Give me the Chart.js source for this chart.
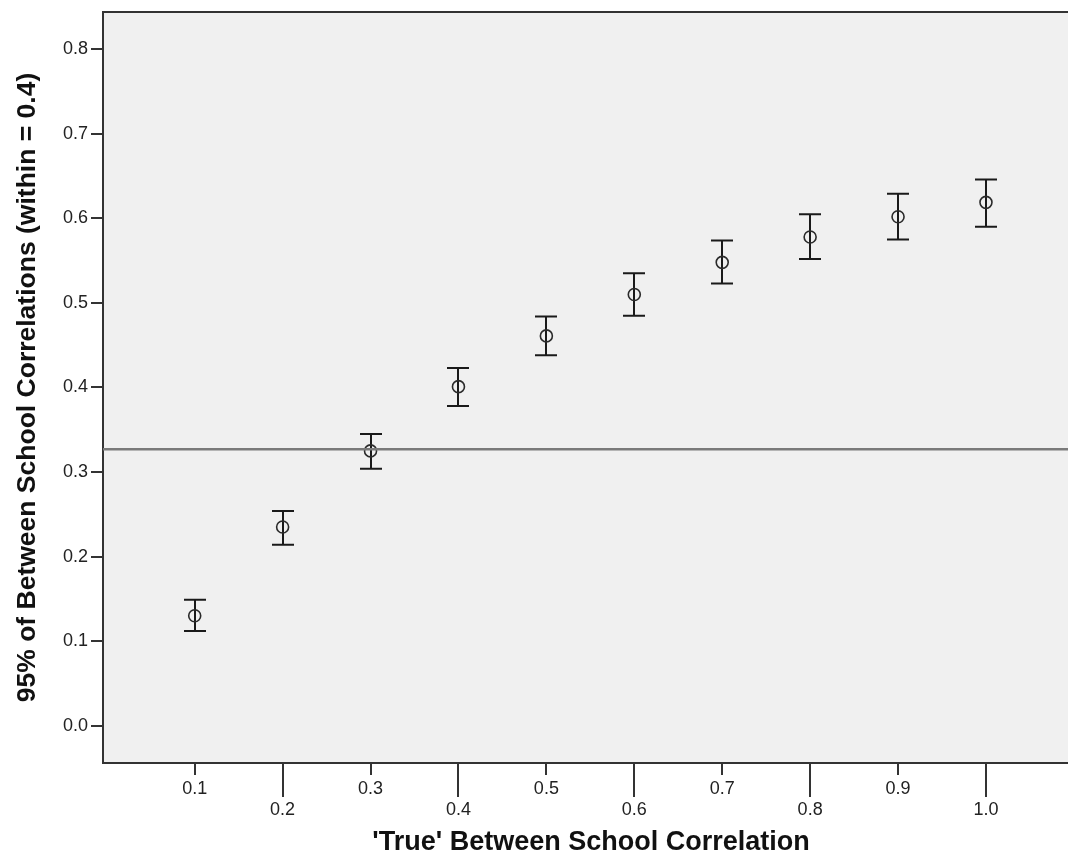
<!DOCTYPE html>
<html>
<head>
<meta charset="utf-8">
<script src="https://cdn.jsdelivr.net/npm/chart.js@4/dist/chart.umd.min.js"></script>
<style>
  html, body { margin: 0; padding: 0; background: #ffffff; }
  #wrap { width: 1068px; height: 861px; position: relative; }
</style>
</head>
<body>
<div id="wrap"><canvas id="c"></canvas></div>
<script>
// ---- data ----
const trueCorr = [0.1, 0.2, 0.3, 0.4, 0.5, 0.6, 0.7, 0.8, 0.9, 1.0];
const meanCorr = [0.130, 0.235, 0.325, 0.401, 0.461, 0.510, 0.548, 0.578, 0.602, 0.619];
const lowerCI  = [0.112, 0.214, 0.304, 0.378, 0.438, 0.485, 0.523, 0.552, 0.575, 0.590];
const upperCI  = [0.149, 0.254, 0.345, 0.423, 0.484, 0.535, 0.574, 0.605, 0.629, 0.646];
const refValue = 0.327;
const xTicks = [0.1, 0.2, 0.3, 0.4, 0.5, 0.6, 0.7, 0.8, 0.9, 1.0];
const yTicks = [0.0, 0.1, 0.2, 0.3, 0.4, 0.5, 0.6, 0.7, 0.8];
const xTitle = "'True' Between School Correlation";
const yTitle = "95% of Between School Correlations (within = 0.4)";

const X_MIN = -0.0043, X_MAX = 1.0933;
const Y_MIN = -0.0441, Y_MAX = 0.8441;

const FONT = "'Liberation Sans', Arial, sans-serif";

const bgPlugin = {
  id: 'bg',
  beforeDraw(chart) {
    const {ctx, chartArea: a} = chart;
    ctx.save();
    ctx.fillStyle = '#f0f0f0';
    ctx.fillRect(a.left, a.top, a.right - a.left, a.bottom - a.top);
    ctx.restore();
  },
  afterDraw(chart) {
    const {ctx, chartArea: a} = chart;
    const xs = chart.scales.x, ys = chart.scales.y;
    ctx.save();
    ctx.strokeStyle = '#333333';
    ctx.lineWidth = 2;
    // top border
    ctx.beginPath();
    ctx.moveTo(a.left - 1, a.top);
    ctx.lineTo(a.right, a.top);
    ctx.stroke();
    // y ticks
    yTicks.forEach(v => {
      const y = Math.round(ys.getPixelForValue(v));
      ctx.beginPath();
      ctx.moveTo(a.left - 12, y);
      ctx.lineTo(a.left, y);
      ctx.stroke();
    });
    // x ticks (alternating length)
    xTicks.forEach((v, i) => {
      const x = Math.round(xs.getPixelForValue(v));
      const len = (i % 2 === 0) ? 12 : 34;
      ctx.beginPath();
      ctx.moveTo(x, a.bottom);
      ctx.lineTo(x, a.bottom + len);
      ctx.stroke();
    });
    // x axis title
    ctx.fillStyle = '#111111';
    ctx.font = "bold 27px " + FONT;
    ctx.textAlign = 'center';
    ctx.textBaseline = 'middle';
    ctx.fillText(xTitle, 591, 843);
    ctx.restore();
  }
};

const errorBarPlugin = {
  id: 'errbars',
  beforeDatasetDraw(chart, args) {
    if (args.index !== 1) return;
    const {ctx} = chart;
    const xs = chart.scales.x, ys = chart.scales.y;
    ctx.save();
    ctx.strokeStyle = '#1a1a1a';
    ctx.lineWidth = 2;
    trueCorr.forEach((xv, i) => {
      const x = Math.round(xs.getPixelForValue(xv));
      const yl = ys.getPixelForValue(lowerCI[i]);
      const yu = ys.getPixelForValue(upperCI[i]);
      ctx.beginPath();
      ctx.moveTo(x, yl);
      ctx.lineTo(x, yu);
      ctx.moveTo(x - 11, yl);
      ctx.lineTo(x + 11, yl);
      ctx.moveTo(x - 11, yu);
      ctx.lineTo(x + 11, yu);
      ctx.stroke();
    });
    ctx.restore();
  }
};

new Chart(document.getElementById('c'), {
  type: 'scatter',
  data: {
    datasets: [
      {
        type: 'line',
        data: [{x: X_MIN, y: refValue}, {x: X_MAX, y: refValue}],
        borderColor: '#7a7a7a',
        borderWidth: 2.5,
        pointRadius: 0,
        fill: false
      },
      {
        data: trueCorr.map((x, i) => ({x: x, y: meanCorr[i]})),
        pointStyle: 'circle',
        pointRadius: 6,
        pointBorderWidth: 1.6,
        pointBorderColor: '#2a2a2a',
        pointBackgroundColor: 'rgba(0,0,0,0)'
      }
    ]
  },
  options: {
    responsive: true,
    maintainAspectRatio: false,
    animation: false,
    events: [],
    layout: { autoPadding: false, padding: { top: 12, right: 0, bottom: 0, left: 0 } },
    plugins: { legend: { display: false }, tooltip: { enabled: false } },
    scales: {
      x: {
        type: 'linear',
        min: X_MIN, max: X_MAX,
        afterBuildTicks(scale) { scale.ticks = xTicks.map(v => ({value: v})); },
        afterFit(scale) { scale.height = 98; },
        grid: { display: false, drawTicks: false },
        border: { display: true, color: '#333333', width: 2 },
        ticks: {
          autoSkip: false, maxRotation: 0, minRotation: 0,
          padding: 16,
          color: '#222222',
          font: { family: FONT, size: 18, lineHeight: 1.15 },
          callback(value, index) {
            const s = Number(value).toFixed(1);
            return (index % 2 === 0) ? [s] : ['', s];
          }
        },
        title: { display: false }
      },
      y: {
        type: 'linear',
        min: Y_MIN, max: Y_MAX,
        afterBuildTicks(scale) { scale.ticks = yTicks.map(v => ({value: v})); },
        afterFit(scale) { scale.width = 103; scale.paddingTop = 0; scale.paddingBottom = 0; },
        grid: { display: false, drawTicks: true, tickLength: 13 },
        border: { display: true, color: '#333333', width: 2 },
        ticks: {
          autoSkip: false, padding: 2,
          color: '#222222',
          font: { family: FONT, size: 18 },
          callback(value) { return Number(value).toFixed(1); }
        },
        title: {
          display: true, text: yTitle, color: '#111111',
          font: { family: FONT, size: 26.5, weight: 'bold', lineHeight: 1.2 },
          padding: { top: 12, bottom: 0 }
        }
      }
    }
  },
  plugins: [bgPlugin, errorBarPlugin]
});
</script>
</body>
</html>
